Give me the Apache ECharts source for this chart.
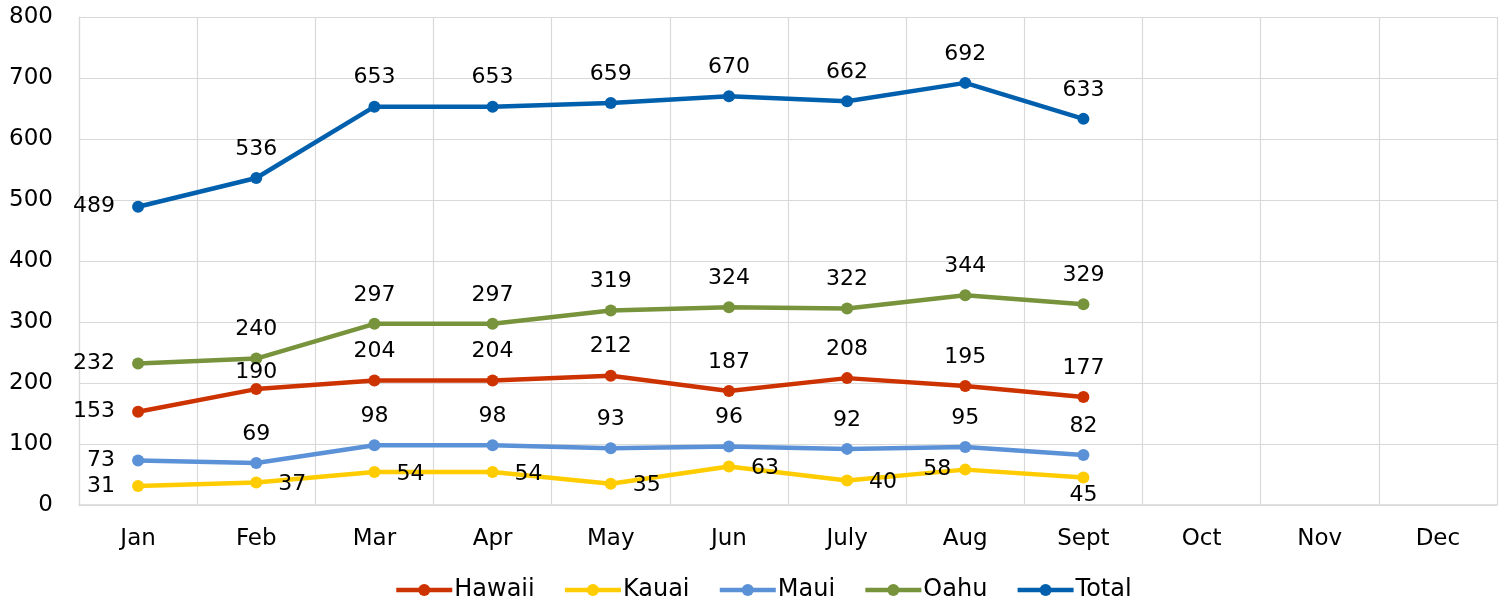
<!DOCTYPE html>
<html>
<head>
<meta charset="utf-8">
<script src="https://cdn.jsdelivr.net/npm/echarts@6/dist/echarts.min.js"></script>
<style>
  html, body { margin: 0; padding: 0; background: #fff; }
  #chart { width: 1504px; height: 602px; }
</style>
</head>
<body>
<div id="chart"></div>
<script>
// data
const months = ['Jan', 'Feb', 'Mar', 'Apr', 'May', 'Jun', 'July', 'Aug', 'Sept', 'Oct', 'Nov', 'Dec'];
const hawaii = [153, 190, 204, 204, 212, 187, 208, 195, 177];
const kauai = [31, 37, 54, 54, 35, 63, 40, 58, 45];
const maui = [73, 69, 98, 98, 93, 96, 92, 95, 82];
const oahu = [232, 240, 297, 297, 319, 324, 322, 344, 329];
const total = [489, 536, 653, 653, 659, 670, 662, 692, 633];

const FONT = '"DejaVu Sans", sans-serif';

// label placement: first point on the left, rest above (Kauai mostly to the right)
function labelFor(name, i) {
  if (i === 0) return { position: 'left', distance: 17 };
  if (name === 'Kauai') {
    if (i === 7) return { position: 'left', distance: 8 };
    if (i === 8) return { position: 'bottom', distance: 1 };
    return { position: 'right', distance: 16, offset: [0, 2] };
  }
  if (name === 'Hawaii' && i === 1) return { position: 'top', distance: 0 };
  return { position: 'top', distance: 12 };
}

function makeSeries(name, values, color) {
  return {
    name: name,
    type: 'line',
    data: values.map((v, i) => ({ value: v, label: labelFor(name, i) })),
    symbol: 'circle',
    symbolSize: 12,
    lineStyle: { width: 4.5, color: color },
    itemStyle: { color: color },
    label: {
      show: true,
      color: '#000',
      fontSize: 22,
      fontFamily: FONT
    },
    emphasis: { disabled: true },
    z: 3
  };
}

const myChart = echarts.init(document.getElementById('chart'));
const option = {
  animation: false,
  textStyle: { fontFamily: FONT },
  grid: { left: 79, right: 7, top: 17, bottom: 97, containLabel: false },
  legend: {
    top: 573,
    left: 389,
    itemWidth: 56,
    itemHeight: 15,
    itemGap: 28,
    lineStyle: { width: 4.5 },
    textStyle: { fontSize: 24, color: '#000', fontFamily: FONT, padding: [0, 0, 0, -3] },
    data: ['Hawaii', 'Kauai', 'Maui', 'Oahu', 'Total']
  },
  xAxis: {
    type: 'category',
    data: months,
    boundaryGap: true,
    axisLine: { lineStyle: { color: '#d9d9d9', width: 1.5 } },
    axisTick: { show: false },
    axisLabel: { color: '#000', fontSize: 23, margin: 23, fontFamily: FONT },
    splitLine: { show: true, lineStyle: { color: '#d9d9d9', width: 1.2 } }
  },
  yAxis: {
    type: 'value',
    min: 0,
    max: 800,
    interval: 100,
    axisLine: { show: true, lineStyle: { color: '#d9d9d9', width: 1.2 } },
    axisTick: { show: false },
    axisLabel: { color: '#000', fontSize: 23, margin: 26, fontFamily: FONT },
    splitLine: { lineStyle: { color: '#d9d9d9', width: 1.2 } }
  },
  series: [
    makeSeries('Hawaii', hawaii, '#CC3300'),
    makeSeries('Kauai', kauai, '#FFCC00'),
    makeSeries('Maui', maui, '#5B91D6'),
    makeSeries('Oahu', oahu, '#77933C'),
    makeSeries('Total', total, '#0060AD')
  ]
};
myChart.setOption(option);
</script>
</body>
</html>
